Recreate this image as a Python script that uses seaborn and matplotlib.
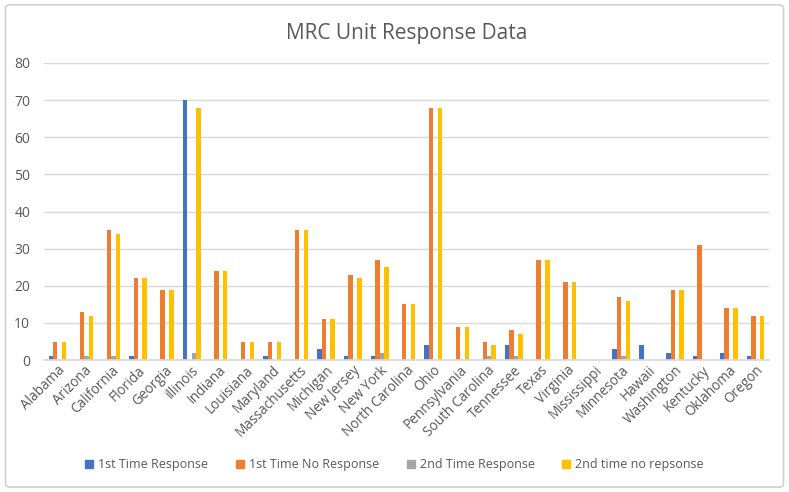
import matplotlib
matplotlib.use("Agg")
import matplotlib.pyplot as plt
import seaborn as sns
import pandas as pd
from matplotlib.patches import FancyBboxPatch

states = ["Alabama", "Arizona", "California", "Florida", "Georgia", "illinois", "Indiana",
          "Louisiana", "Maryland", "Massachusetts", "Michigan", "New Jersey", "New York",
          "North Carolina", "Ohio", "Pennsylvania", "South Carolina", "Tennessee", "Texas",
          "Virginia", "Mississippi", "Minnesota", "Hawaii", "Washington", "Kentucky",
          "Oklahoma", "Oregon"]
first_response = [1, 0, 0, 1, 0, 70, 0, 0, 1, 0, 3, 1, 1, 0, 4, 0, 0, 4, 0, 0, 0, 3, 4, 2, 1, 2, 1]
first_no_response = [5, 13, 35, 22, 19, 0, 24, 5, 5, 35, 11, 23, 27, 15, 68, 9, 5, 8, 27, 21, 0, 17, 0, 19, 31, 14, 12]
second_response = [0, 1, 1, 0, 0, 2, 0, 0, 0, 0, 0, 0, 2, 0, 0, 0, 1, 1, 0, 0, 0, 1, 0, 0, 0, 0, 0]
second_no_response = [5, 12, 34, 22, 19, 68, 24, 5, 5, 35, 11, 22, 25, 15, 68, 9, 4, 7, 27, 21, 0, 16, 0, 19, 0, 14, 12]
series_names = ["1st Time Response", "1st Time No Response", "2nd Time Response", "2nd time no repsonse"]
colors = ["#4472C4", "#ED7D31", "#A5A5A5", "#FFC000"]

rows = []
for name, vals in zip(series_names, [first_response, first_no_response, second_response, second_no_response]):
    for s, v in zip(states, vals):
        rows.append({"State": s, "Series": name, "Value": v})
df = pd.DataFrame(rows)

sns.set_theme(style="white")
plt.rcParams['font.family'] = ['Open Sans', 'DejaVu Sans']

fig = plt.figure(figsize=(7.89, 4.92), dpi=100)
ax = fig.add_axes([0.0558, 0.268, 0.9188, 0.604])

sns.barplot(data=df, x="State", y="Value", hue="Series", palette=colors,
            order=states, hue_order=series_names, width=0.66, ax=ax,
            saturation=1, legend=True, errorbar=None, linewidth=0)

ax.set_ylim(0, 80)
ax.set_xlim(-0.5, len(states) - 0.5)
ax.set_yticks(range(0, 81, 10))
ax.yaxis.grid(True, color="#D9D9D9", linewidth=1)
ax.set_axisbelow(True)
for sp in ["top", "right", "left"]:
    ax.spines[sp].set_visible(False)
ax.spines["bottom"].set_color("#D9D9D9")
ax.set_xlabel("")
ax.set_ylabel("")
ax.tick_params(axis="y", colors="#595959", labelsize=10, length=0, pad=10)
ax.tick_params(axis="x", colors="#595959", labelsize=9.8, length=0, pad=2)
plt.setp(ax.get_xticklabels(), rotation=45, ha="right", rotation_mode="anchor")

ax.set_title("MRC Unit Response Data", fontsize=15, color="#595959", pad=17)

ax.legend_.remove()
handles = [plt.Rectangle((0, 0), 1, 1, color=c) for c in colors]
fig.legend(handles, series_names, loc="center", bbox_to_anchor=(0.5, 0.055), ncol=4,
           frameon=False, fontsize=9, labelcolor="#595959", handlelength=0.65,
           handleheight=0.65, columnspacing=2.2, handletextpad=0.4)

border = FancyBboxPatch((0.007, 0.01), 0.986, 0.98, boxstyle="round,pad=0,rounding_size=0.006",
                        transform=fig.transFigure, fill=False, edgecolor="#D0D0D0", linewidth=1.2)
fig.patches.append(border)

fig.savefig("out.png", dpi=100, facecolor="white")
